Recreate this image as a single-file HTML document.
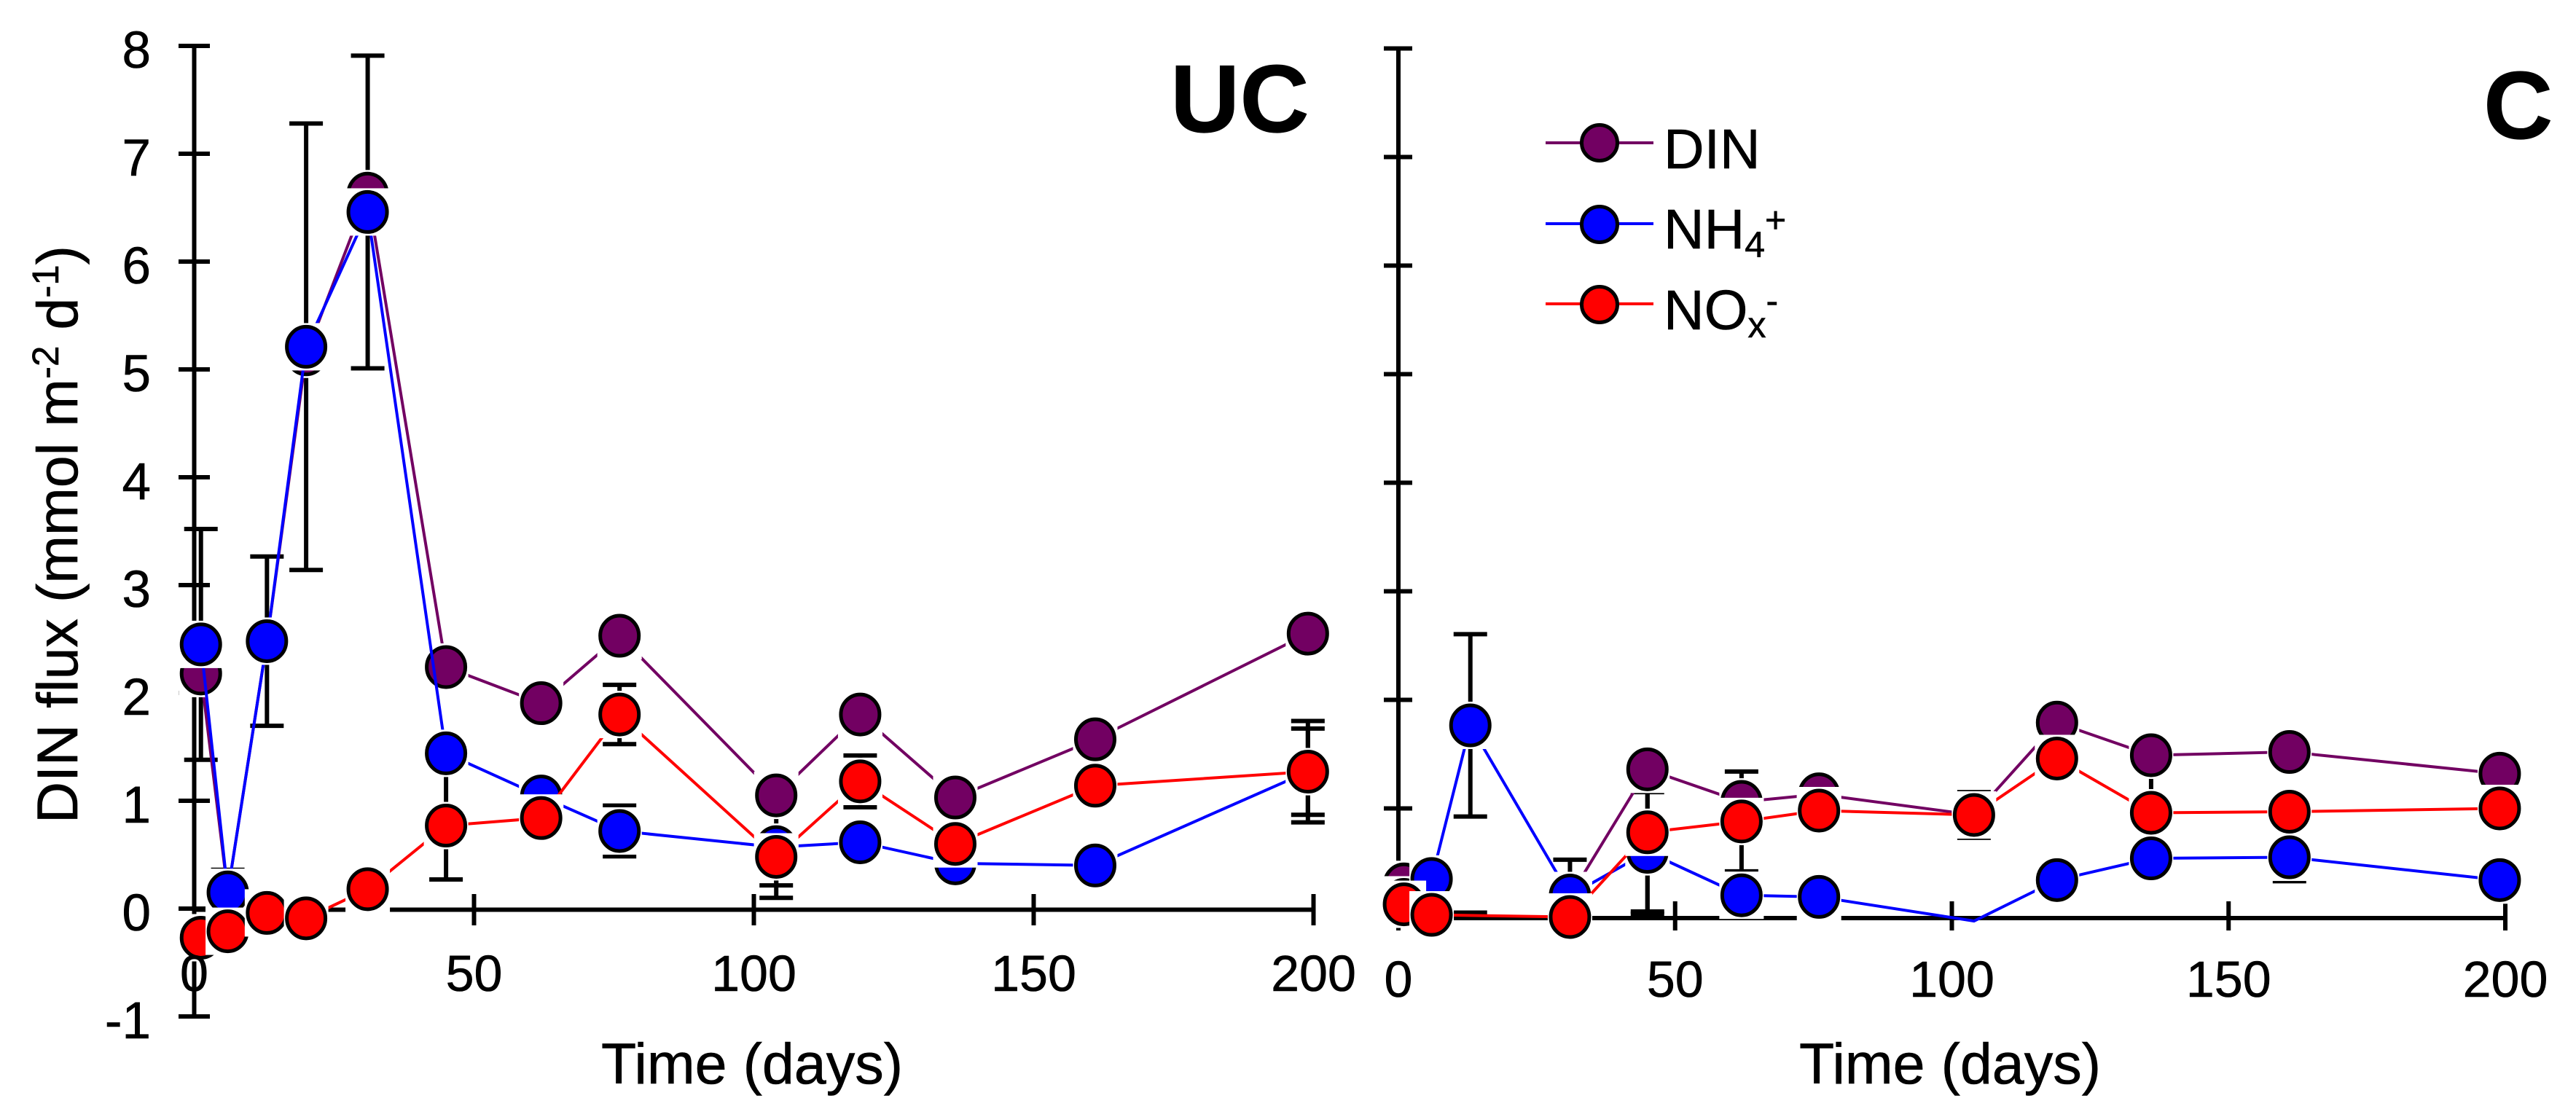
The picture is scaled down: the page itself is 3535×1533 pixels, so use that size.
<!DOCTYPE html>
<html lang="en">
<head>
<meta charset="utf-8">
<title>DIN flux over time</title>
<style>
  html, body { margin: 0; padding: 0; background: #fff; }
  svg { display: block; }
  text { font-family: "Liberation Sans", Arial, sans-serif; fill: #000; stroke: #000; stroke-width: 0.6px; }
</style>
</head>
<body>
<svg id="chart" xmlns="http://www.w3.org/2000/svg" width="3535" height="1533" viewBox="0 0 3535 1533">
  <rect x="0" y="0" width="3535" height="1533" fill="#fff"/>
  <g id="left-panel"></g>
  <g id="right-panel"></g>

  <text transform="translate(106,1130) rotate(-90)" font-size="79">DIN flux (mmol m<tspan dy="-26" font-size="51">-2</tspan><tspan dy="26"> d</tspan><tspan dy="-26" font-size="51">-1</tspan><tspan dy="26">)</tspan></text>
  <text x="825" y="1487" font-size="79">Time (days)</text>
  <text x="2469" y="1487" font-size="79">Time (days)</text>
  <text x="1606" y="181" font-size="132" font-weight="bold">UC</text>
  <text x="3408" y="190" font-size="132" font-weight="bold">C</text>

  <g>
    <g>
      <line x1="2121" y1="196" x2="2269" y2="196" stroke="#720062" stroke-width="4"/>
      <circle cx="2195" cy="196" r="24.5" fill="#720062" stroke="#000" stroke-width="5"/>
      <text x="2283" y="231" font-size="77">DIN</text>
    </g>
    <g>
      <line x1="2121" y1="307" x2="2269" y2="307" stroke="#0000ff" stroke-width="4"/>
      <circle cx="2195" cy="308" r="24.5" fill="#0000ff" stroke="#000" stroke-width="5"/>
      <text x="2283" y="341" font-size="77">NH<tspan dy="12" font-size="50">4</tspan><tspan dy="-34" font-size="50">+</tspan></text>
    </g>
    <g>
      <line x1="2121" y1="417" x2="2269" y2="417" stroke="#ff0000" stroke-width="4"/>
      <circle cx="2195" cy="418" r="24.5" fill="#ff0000" stroke="#000" stroke-width="5"/>
      <text x="2283" y="452" font-size="77">NO<tspan dy="11" font-size="50">x</tspan><tspan dy="-33" font-size="50">-</tspan></text>
    </g>
  </g>
</svg>
<script>
const xTicks = [0, 50, 100, 150, 200];
const yTicksLeft = [-1, 0, 1, 2, 3, 4, 5, 6, 7, 8];
const yTicksRight = [0, 1, 2, 3, 4, 5, 6, 7, 8];

const ucDays = [1.2, 6, 13, 20, 31, 45, 62, 76, 104, 119, 136, 161, 199];
const ucDIN = [2.18, 0.15, 2.48, 5.14, 6.63, 2.24, 1.905, 2.53, 1.05, 1.80, 1.03, 1.57, 2.55];
const ucNH4 = [2.45, 0.15, 2.48, 5.21, 6.46, 1.44, 1.04, 0.72, 0.57, 0.615, 0.42, 0.40, 1.27];
const ucNOx = [-0.27, -0.21, -0.04, -0.09, 0.18, 0.77, 0.84, 1.80, 0.48, 1.18, 0.60, 1.14, 1.27];
const ucErrNH4 = [1.07, 0.21, 0.785, 2.07, 1.45, 0, 0, 0.235, 0.47, 0, 0, 0, 0.40];
const ucErrNOx = [0, 0, 0, 0, 0, 0.50, 0, 0.275, 0.265, 0.24, 0, 0, 0.47];

/* null = no marker and the line runs straight past; NaN = no marker and the line breaks */
const cDays = [1, 6, 13, 31, 45, 62, 76, 104, 119, 136, 161, 199];
const cDIN = [0.30, NaN, NaN, 0.19, 1.36, 1.06, 1.13, 0.94, 1.79, 1.49, 1.52, 1.32];
const cNH4 = [0.158, 0.35, 1.765, 0.198, 0.60, 0.20, 0.185, -0.037, 0.34, 0.54, 0.55, 0.34];
const cNOx = [0.117, 0.02, null, 0.0, 0.78, 0.88, 0.98, 0.94, 1.46, 0.96, 0.97, 1.0];
const cErrNH4 = [0, 0, 0.84, 0.33, 0.55, 0, 0, 0, 0, 0, 0.22, 0];
const cErrNOx = [0, 0, 0, 0, 0.75, 0.46, 0, 0.21, 0, 0.34, 0, 0];
const cNH4UnmarkedDays = [104];
const cLoneCapDays = [13];
const cLoneCapValues = [0.04];

const NS = 'http://www.w3.org/2000/svg';
const PURPLE = '#720062', BLUE = '#0000ff', RED = '#ff0000';

function xLeft(d) { return 266.5 + 7.68 * d; }
function yLeft(v) { return 1247 - 148 * v; }
function xRight(d) { return 1919 + 7.595 * d; }
function yRight(v) { return 1258.5 - 149 * v; }

function make(tag, parent, attrs) {
  const el = document.createElementNS(NS, tag);
  for (const k in attrs) el.setAttribute(k, attrs[k]);
  parent.appendChild(el);
  return el;
}

function drawAxes(parent, panel, x, y, yTicks, yBottom, yTickL, yTickR, xTickT, xTickB) {
  const xa = make('line', parent, { x1: x(0) - 3, x2: x(200) + 3, y1: y(0) + 1.5, y2: y(0) + 1.5, stroke: '#000', 'stroke-width': 6 });
  
  
  const ya = make('line', parent, { x1: x(0), x2: x(0), y1: y(8) - 3, y2: yBottom, stroke: '#000', 'stroke-width': 6 });
  
  

  xTicks.forEach(function (t) {
    const tick = make('line', parent, { x1: x(t), x2: x(t), y1: xTickT, y2: xTickB, stroke: '#000', 'stroke-width': 6 });
    
    
  });
  yTicks.forEach(function (t) {
    const tick = make('line', parent, { x1: yTickL, x2: yTickR, y1: y(t), y2: y(t), stroke: '#000', 'stroke-width': 6 });
    
    
  });
}

function drawTickLabels(parent, panel, x, y, yTicks, xLabelBase, showYLabels) {
  xTicks.forEach(function (t) {
    const label = make('text', parent, { x: x(t), y: xLabelBase, 'font-size': 70, 'text-anchor': 'middle' });
    label.textContent = String(t);
    
    
  });
  if (showYLabels) {
    yTicks.forEach(function (t) {
      const label = make('text', parent, { x: 207, y: y(t) + 30, 'font-size': 71, 'text-anchor': 'end' });
      label.textContent = String(t);
      
      
    });
  }
}

function drawErrors(parent, panel, x, y, days, values, errs, seriesName) {
  days.forEach(function (d, i) {
    const e = errs[i];
    if (!e) return;
    const cx = x(d);
    const top = y(values[i] + e), bot = y(values[i] - e);
    const stem = make('line', parent, { x1: cx, x2: cx, y1: top, y2: bot, stroke: '#000', 'stroke-width': 6 });
    
    
    [top, bot].forEach(function (cy) {
      const cap = make('line', parent, { x1: cx - 23, x2: cx + 23, y1: cy, y2: cy, stroke: '#000', 'stroke-width': 6 });
      
      
    });
  });
}

function drawLoneCaps(parent, panel, x, y, days, values) {
  days.forEach(function (d, i) {
    const cap = make('line', parent, { x1: x(d) - 23, x2: x(d) + 23, y1: y(values[i]), y2: y(values[i]), stroke: '#000', 'stroke-width': 6 });
    
    
  });
}

function drawSeries(parent, panel, x, y, days, values, color, seriesName, unmarkedDays) {
  const segments = [[]];
  days.forEach(function (d, i) {
    const v = values[i];
    if (v === null) return;
    if (Number.isNaN(v)) { segments.push([]); return; }
    segments[segments.length - 1].push(x(d) + ',' + y(v));
  });
  segments.forEach(function (seg) {
    if (seg.length < 2) return;
    const line = make('polyline', parent, { points: seg.join(' '), fill: 'none', stroke: color, 'stroke-width': 4 });
    
    
  });
  days.forEach(function (d, i) {
    const v = values[i];
    if (v === null || Number.isNaN(v)) return;
    if (unmarkedDays && unmarkedDays.indexOf(d) >= 0) return;
    const cx = x(d), cy = y(v);
    const mask = make('rect', parent, { x: cx - 30.5, y: cy - 32.5, width: 61, height: 65, fill: '#fff' });
    
    
    const dot = make('ellipse', parent, { cx: cx, cy: cy, rx: 26.5, ry: 27.5, fill: color, stroke: '#000', 'stroke-width': 5 });
    
    
  });
}

const leftG = document.getElementById('left-panel');
drawAxes(leftG, 'uc', xLeft, yLeft, yTicksLeft, yLeft(-1) + 3, 245, 288, 1227, 1270);
drawErrors(leftG, 'uc', xLeft, yLeft, ucDays, ucNH4, ucErrNH4, 'nh4');
drawErrors(leftG, 'uc', xLeft, yLeft, ucDays, ucNOx, ucErrNOx, 'nox');
drawSeries(leftG, 'uc', xLeft, yLeft, ucDays, ucDIN, PURPLE, 'din');
drawSeries(leftG, 'uc', xLeft, yLeft, ucDays, ucNH4, BLUE, 'nh4');
drawSeries(leftG, 'uc', xLeft, yLeft, ucDays, ucNOx, RED, 'nox');
drawTickLabels(leftG, 'uc', xLeft, yLeft, yTicksLeft, 1360, true);

const rightG = document.getElementById('right-panel');
drawAxes(rightG, 'c', xRight, yRight, yTicksRight, 1277, 1899, 1938, 1237, 1277);
drawErrors(rightG, 'c', xRight, yRight, cDays, cNH4, cErrNH4, 'nh4');
drawErrors(rightG, 'c', xRight, yRight, cDays, cNOx, cErrNOx, 'nox');
drawLoneCaps(rightG, 'c', xRight, yRight, cLoneCapDays, cLoneCapValues);
drawSeries(rightG, 'c', xRight, yRight, cDays, cDIN, PURPLE, 'din');
drawSeries(rightG, 'c', xRight, yRight, cDays, cNH4, BLUE, 'nh4', cNH4UnmarkedDays);
drawSeries(rightG, 'c', xRight, yRight, cDays, cNOx, RED, 'nox');
drawTickLabels(rightG, 'c', xRight, yRight, yTicksRight, 1368, false);
</script>
</body>
</html>
